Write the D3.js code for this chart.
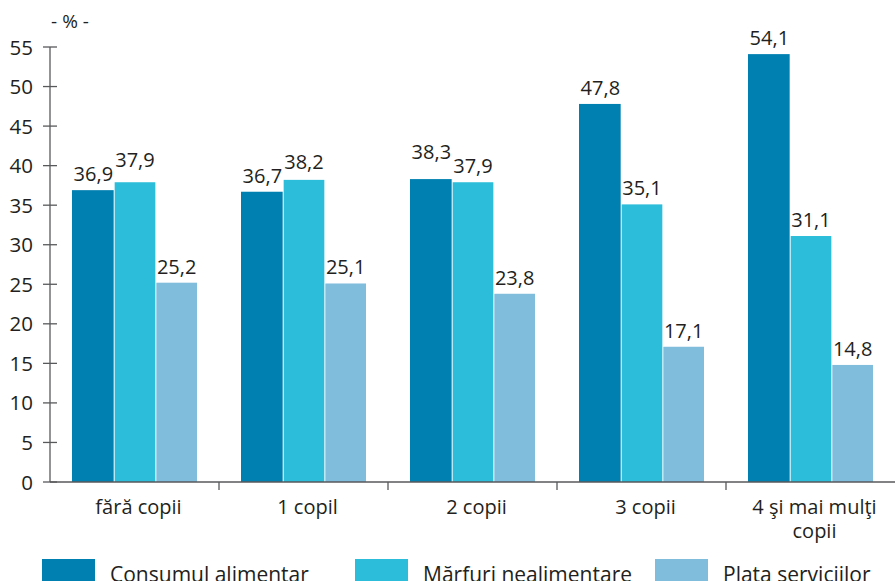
<!DOCTYPE html>
<html>
<head>
<meta charset="utf-8">
<script src="https://cdn.jsdelivr.net/npm/d3@7"></script>
<style>
  body { margin: 0; background: #fff; }
  text { font-family: "Open Sans", "Noto Sans", sans-serif; fill: #231f20; }
</style>
</head>
<body>
<svg id="chart" width="895" height="581"></svg>
<script>
// categories and series
var categories = ['fără copii', '1 copil', '2 copii', '3 copii', '4 şi mai mulţi\ncopii'];
var seriesNames = ['Consumul alimentar', 'Mărfuri nealimentare', 'Plata serviciilor'];
var alimentar = [36.9, 36.7, 38.3, 47.8, 54.1];
var nealimentar = [37.9, 38.2, 37.9, 35.1, 31.1];
var servicii = [25.2, 25.1, 23.8, 17.1, 14.8];
var colors = ['#0080b1', '#2bbdd9', '#80bddd'];
var yTicks = [0, 5, 10, 15, 20, 25, 30, 35, 40, 45, 50, 55];

var series = [alimentar, nealimentar, servicii];
var svg = d3.select('#chart');

var x0 = 50, x1 = 895, yTop = 47, yBot = 482;

var y = d3.scaleLinear().domain([0, 55]).range([yBot, yTop]);
var x = d3.scaleBand().domain(categories).range([x0, x1]).paddingInner(0).paddingOuter(0);
var xs = d3.scaleBand().domain(d3.range(3)).range([22, x.bandwidth() - 22]).padding(0);

var fmt = function(v) { return v.toFixed(1).replace('.', ','); };

// bars
var groups = svg.append('g').selectAll('g').data(categories).enter().append('g')
    .attr('transform', function(d) { return 'translate(' + x(d) + ',0)'; });

groups.each(function(c, ci) {
    var g = d3.select(this);
    // label baselines, the higher of two close neighbours is lifted
    var base = series.map(function(s) { return y(s[ci]) - 9; });
    for (var i = 0; i < 2; i++) {
        if (Math.abs(series[i][ci] - series[i + 1][ci]) < 2) {
            var hi = series[i][ci] > series[i + 1][ci] ? i : i + 1, lo = hi === i ? i + 1 : i;
            base[hi] = Math.min(base[hi], base[lo] - 14);
        }
    }
    series.forEach(function(s, si) {
        g.append('rect')
            .attr('x', xs(si) + (si > 0 ? 1 : 0))
            .attr('width', xs.bandwidth() - (si > 0 ? 1 : 0))
            .attr('y', y(s[ci]))
            .attr('height', yBot - y(s[ci]))
            .attr('fill', colors[si]);
        g.append('text')
            .attr('x', xs(si) + xs.bandwidth() / 2 + 0.5)
            .attr('y', base[si])
            .attr('text-anchor', 'middle')
            .style('font-size', '20px')
            .text(fmt(s[ci]));
    });
});

// y axis
var axisCol = '#58595b';
svg.append('line').attr('x1', x0).attr('x2', x0).attr('y1', y(55)).attr('y2', yBot)
    .attr('stroke', axisCol).attr('stroke-width', 1.3);
svg.append('g').selectAll('line').data(yTicks).enter().append('line')
    .attr('x1', x0 - 7).attr('x2', x0 + 7)
    .attr('y1', function(d) { return y(d); }).attr('y2', function(d) { return y(d); })
    .attr('stroke', axisCol).attr('stroke-width', 1.3);
svg.append('g').selectAll('text').data(yTicks).enter().append('text')
    .attr('x', 33).attr('y', function(d) { return y(d) + 7.5; })
    .attr('text-anchor', 'end')
    .style('font-size', '20.5px')
    .text(function(d) { return d; });

svg.append('text').attr('x', 70).attr('y', 28).attr('text-anchor', 'middle')
    .style('font-size', '19px').text('- % -');

// x axis
svg.append('line').attr('x1', x0).attr('x2', x1).attr('y1', yBot).attr('y2', yBot)
    .attr('stroke', axisCol).attr('stroke-width', 1.3);
svg.append('g').selectAll('line').data(categories.slice(1)).enter().append('line')
    .attr('x1', function(d) { return x(d); }).attr('x2', function(d) { return x(d); })
    .attr('y1', yBot).attr('y2', yBot + 8)
    .attr('stroke', axisCol).attr('stroke-width', 1.3);

var xl = svg.append('g').selectAll('text').data(categories).enter().append('text')
    .attr('x', function(d) { return x(d) + x.bandwidth() / 2 + 4; })
    .attr('y', 514)
    .attr('text-anchor', 'middle')
    .style('font-size', '20px');
xl.each(function(d) {
    var t = d3.select(this);
    d.split('\n').forEach(function(line, i) {
        t.append('tspan').attr('x', t.attr('x')).attr('dy', i ? 24 : 0).text(line);
    });
});

// legend
var legX = [42, 355, 655];
var leg = svg.append('g').selectAll('g').data(seriesNames).enter().append('g')
    .attr('transform', function(d, i) { return 'translate(' + legX[i] + ',559)'; });
leg.append('rect').attr('width', 53).attr('height', 24)
    .attr('fill', function(d, i) { return colors[i]; });
leg.append('text').attr('x', 68).attr('y', 23).style('font-size', '21px')
    .text(function(d) { return d; });
</script>
</body>
</html>
